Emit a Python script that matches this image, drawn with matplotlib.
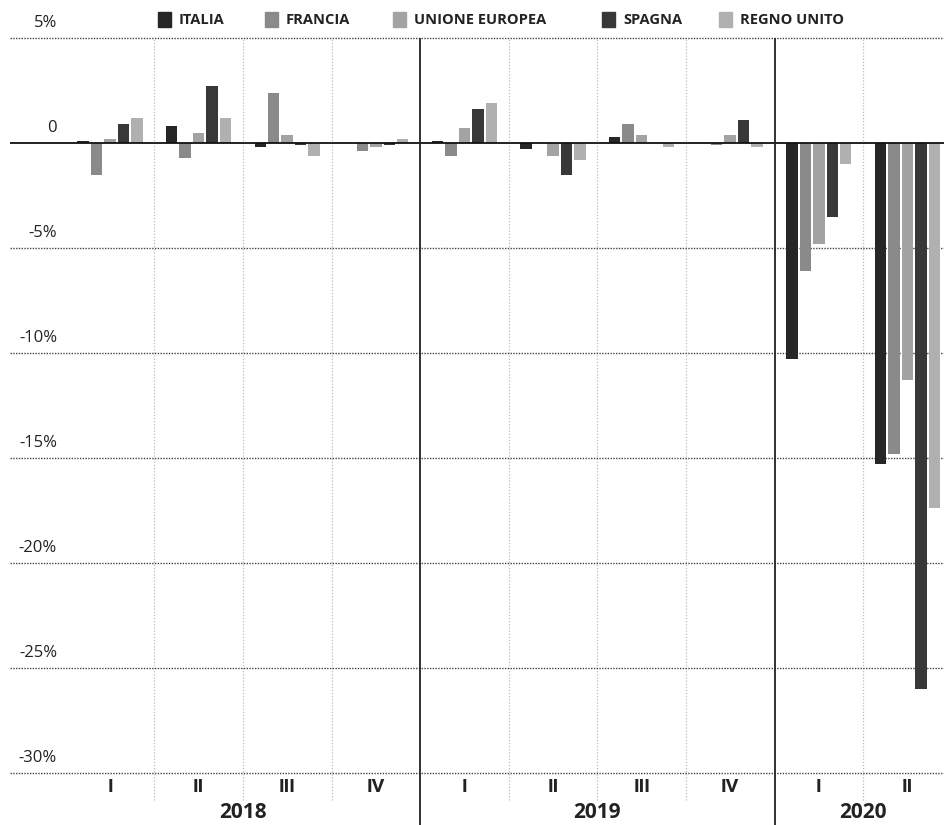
import numpy as np
import matplotlib
matplotlib.use("Agg")
import matplotlib.pyplot as plt
from matplotlib.patches import Rectangle

plt.rcParams['font.family'] = ['Open Sans', 'DejaVu Sans']

# data (variazione % PIL trimestrale)
quarters = ['I', 'II', 'III', 'IV', 'I', 'II', 'III', 'IV', 'I', 'II']
years = ['2018', '2019', '2020']
series_names = ['ITALIA', 'FRANCIA', 'UNIONE EUROPEA', 'SPAGNA', 'REGNO UNITO']
italia = [0.1, 0.8, -0.2, 0.0, 0.1, -0.3, 0.3, 0.0, -10.3, -15.3]
francia = [-1.5, -0.7, 2.4, -0.4, -0.6, 0.0, 0.9, -0.1, -6.1, -14.8]
ue = [0.2, 0.5, 0.4, -0.2, 0.7, -0.6, 0.4, 0.4, -4.8, -11.3]
spagna = [0.9, 2.7, -0.1, -0.1, 1.6, -1.5, 0.0, 1.1, -3.5, -26.0]
uk = [1.2, 1.2, -0.6, 0.2, 1.9, -0.8, -0.2, -0.2, -1.0, -17.4]
yticks = [5, 0, -5, -10, -15, -20, -25, -30]
ytick_labels = ['5%', '0', '-5%', '-10%', '-15%', '-20%', '-25%', '-30%']

colors = ['#262626', '#8a8a8a', '#a3a3a3', '#383838', '#b0b0b0']
series = [italia, francia, ue, spagna, uk]

W, H = 944, 825
fig = plt.figure(figsize=(W / 100, H / 100), dpi=100)
ax = fig.add_axes([0, 0, 1, 1])

# pixel -> data helpers
X0, QW = 110, 88.6
Y0, PP = 143, 21.0
def xd(px):
    return (px - X0) / QW
def yd(py):
    return (Y0 - py) / PP

ax.set_xlim(xd(0), xd(W))
ax.set_ylim(yd(H), yd(0))
ax.axis('off')

x = np.arange(len(quarters))
pitch, bw = 0.152, 0.13
for k, (vals, c) in enumerate(zip(series, colors)):
    ax.bar(x + (k - 2) * pitch, vals, width=bw, color=c, zorder=3)

# grid
for v, lab in zip(yticks, ytick_labels):
    if v == 0:
        ax.hlines(0, xd(10), xd(W), color='#111111', lw=1.3, zorder=4)
    else:
        ax.hlines(v, xd(10), xd(W), color='#444444', lw=1.0,
                  linestyles=(0, (1, 1)), zorder=2)
    ax.text(xd(57), v + 0.35, lab, ha='right', va='bottom', fontsize=12,
            color='#222222')

for b in [0.5, 1.5, 2.5, 4.5, 5.5, 6.5, 8.5]:
    ax.vlines(b, yd(800), 5, color='#bbbbbb', lw=0.9,
              linestyles=(0, (1, 1.5)), zorder=1)
for b in [3.5, 7.5]:
    ax.vlines(b, yd(H), 5, color='#222222', lw=1.3, zorder=4)

# quarter / year labels
for i, q in enumerate(quarters):
    ax.text(i, yd(787), q, ha='center', va='center', fontsize=14,
            fontweight='bold', color='#222222', family='Roboto')
for cx, yr in zip([1.5, 5.5, 8.5], years):
    ax.text(cx, yd(812), yr, ha='center', va='center', fontsize=15,
            fontweight='bold', color='#222222')

# legend
sq_x = [158, 265, 393, 602, 719]
for px, name, c in zip(sq_x, series_names, colors):
    ax.add_patch(Rectangle((xd(px), yd(27)), 13 / QW, 15 / PP, color=c,
                           clip_on=False))
    ax.text(xd(px + 21), yd(20), name, ha='left', va='center', fontsize=10.5,
            fontweight='bold', color='#222222')

fig.savefig('out.png', dpi=100)
